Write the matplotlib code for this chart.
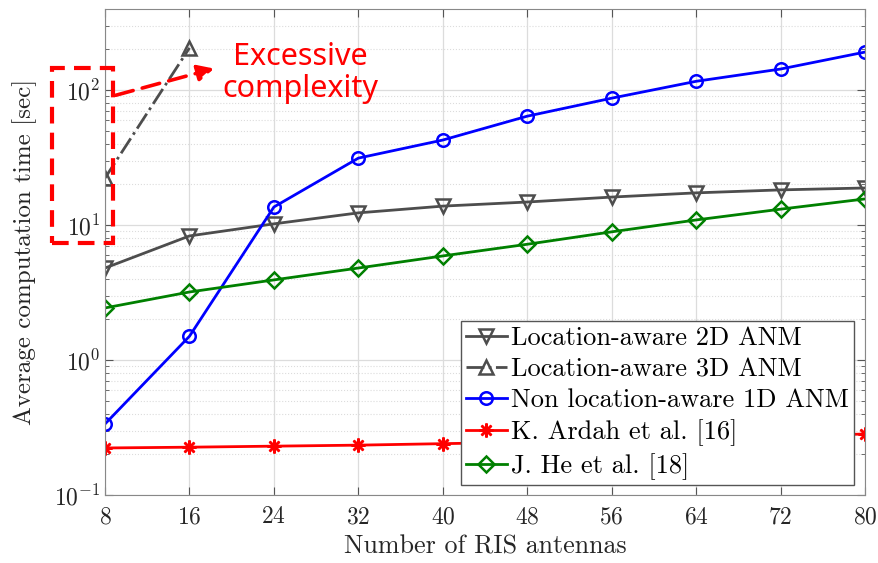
import numpy as np
import matplotlib
matplotlib.use("Agg")
import matplotlib.pyplot as plt
from matplotlib.patches import Rectangle

plt.rcParams['font.family'] = 'serif'
plt.rcParams['font.serif'] = ['cmr10']
plt.rcParams['mathtext.fontset'] = 'cm'
plt.rcParams['axes.formatter.use_mathtext'] = True

# data
antennas = [8, 16, 24, 32, 40, 48, 56, 64, 72, 80]
anm_2d = [4.8, 8.3, 10.2, 12.3, 13.8, 14.8, 16.1, 17.3, 18.2, 18.8]
anm_3d_x = [8, 16]
anm_3d = [22.3, 205]
anm_1d = [0.336, 1.5, 13.6, 31.3, 42.6, 64, 87, 116, 143, 191]
ardah = [0.223, 0.226, 0.230, 0.234, 0.240, 0.246, 0.253, 0.262, 0.272, 0.283]
he = [2.43, 3.19, 3.92, 4.8, 5.9, 7.2, 8.9, 10.9, 13.1, 15.6]
labels = ['Location-aware 2D ANM', 'Location-aware 3D ANM',
          'Non location-aware 1D ANM', 'K. Ardah et al. [16]', 'J. He et al. [18]']

gray = '#4d4d4d'
fig = plt.figure(figsize=(8.79, 5.63), dpi=100)
ax = fig.add_axes([0.1195, 0.1208, 0.8646, 0.8632])

ax.plot(antennas, anm_2d, color=gray, lw=2, marker='v', ms=10.5, mfc='none', mew=1.8, label=labels[0])
ax.plot(anm_3d_x, anm_3d, color=gray, lw=2, ls='-.', marker='^', ms=10.5, mfc='none', mew=1.8, label=labels[1])
ax.plot(antennas, anm_1d, color='b', lw=2, marker='o', ms=9, mfc='none', mew=1.8, label=labels[2])
ax.plot(antennas, ardah, color='r', lw=2, marker=(8, 2, 0), ms=10, mew=1.8, label=labels[3])
ax.plot(antennas, he, color='#008000', lw=2, marker='D', ms=8, mfc='none', mew=1.8, label=labels[4])

ax.set_yscale('log')
ax.set_xlim(8, 80)
ax.set_ylim(0.1, 10**2.6)
ax.set_xticks(antennas)
ax.set_yticks([0.1, 1, 10, 100])
ax.grid(True, which='major', color='#dcdcdc', lw=0.9, ls='-')
ax.grid(True, which='minor', color='#dcdcdc', lw=0.8, ls=':')
ax.set_axisbelow(True)
ax.tick_params(which='both', direction='in', top=True, right=True, colors='#555555', labelcolor='#262626')
ax.tick_params(which='major', length=6, labelsize=17)
ax.tick_params(which='minor', length=3)
ax.tick_params(axis='x', pad=8)
for s in ax.spines.values():
    s.set_color('#888888')

ax.set_xlabel('Number of RIS antennas', fontsize=18.7, color='#262626', labelpad=5)
ax.set_ylabel('Average computation time [sec]', fontsize=18, color='#262626', labelpad=12)

leg = ax.legend(loc='lower right', bbox_to_anchor=(0.9855, 0.0206), borderaxespad=0,
                fontsize=19, fancybox=False, framealpha=1, edgecolor='#555555',
                handlelength=1.55, handletextpad=0.15, labelspacing=0.27, borderpad=0.2)
leg.get_frame().set_linewidth(1.0)

# annotation: dashed box and arrow
box = Rectangle((-0.0697, 0.5185), 0.0802, 0.3601, transform=ax.transAxes, fill=False,
                ec='r', lw=3, ls=(0, (4, 2.2)), clip_on=False, zorder=5)
ax.add_patch(box)
ax.annotate('', xy=(0.147, 0.879), xytext=(0.0105, 0.821), xycoords='axes fraction',
            arrowprops=dict(arrowstyle='-|>', color='r', lw=2.6, ls=(0, (5, 2.6)), mutation_scale=24),
            annotation_clip=False)
ax.text(0.2566, 0.868, 'Excessive\ncomplexity', transform=ax.transAxes, ha='center', va='center',
        color='r', fontsize=22, family='Noto Sans', linespacing=1.1)

fig.savefig('out.png', dpi=100)
